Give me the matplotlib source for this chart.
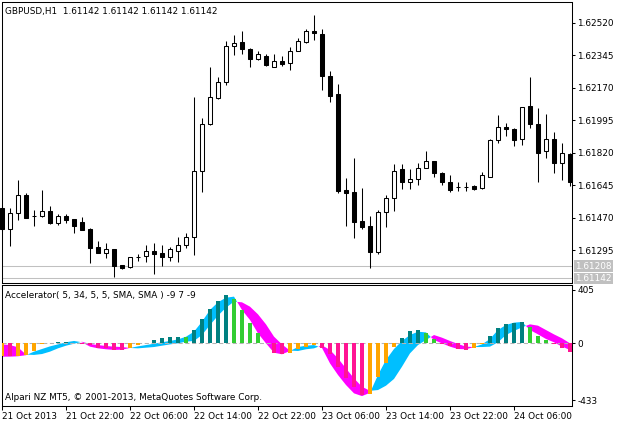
import matplotlib
matplotlib.use("Agg")
import matplotlib.pyplot as plt
from matplotlib.patches import Rectangle

plt.rcParams['font.family'] = ['DejaVu Sans']

# GBPUSD H1 candles, 21 Oct 2013 14:00 onwards
OPEN = [1.61523, 1.61410, 1.61492, 1.61591, 1.61478, 1.61476, 1.61505, 1.61439, 1.61478, 1.61462,
        1.61446, 1.61408, 1.61310, 1.61280, 1.61300, 1.61214, 1.61202, 1.61256, 1.61264, 1.61290,
        1.61277, 1.61256, 1.61291, 1.61320, 1.61363, 1.61718, 1.61971, 1.62114, 1.62197, 1.62396,
        1.62414, 1.62380, 1.62321, 1.62339, 1.62283, 1.62312, 1.62300, 1.62367, 1.62416, 1.62473,
        1.62459, 1.62231, 1.62134, 1.61618, 1.61607, 1.61451, 1.61424, 1.61286, 1.61498, 1.61573,
        1.61729, 1.61663, 1.61675, 1.61735, 1.61772, 1.61708, 1.61663, 1.61636, 1.61636, 1.61639,
        1.61627, 1.61689, 1.61887, 1.61957, 1.61948, 1.61891, 1.62070, 1.61973, 1.61829, 1.61891,
        1.61761, 1.61812]
HIGH = [1.61537, 1.61523, 1.61672, 1.61603, 1.61510, 1.61618, 1.61532, 1.61487, 1.61489, 1.61462,
        1.61471, 1.61412, 1.61343, 1.61331, 1.61302, 1.61216, 1.61259, 1.61273, 1.61322, 1.61331,
        1.61322, 1.61313, 1.61363, 1.61385, 1.62120, 1.62004, 1.62281, 1.62224, 1.62419, 1.62452,
        1.62473, 1.62382, 1.62366, 1.62350, 1.62350, 1.62339, 1.62387, 1.62437, 1.62486, 1.62561,
        1.62486, 1.62258, 1.62188, 1.61681, 1.61788, 1.61627, 1.61478, 1.61510, 1.61591, 1.61756,
        1.61759, 1.61729, 1.61761, 1.61829, 1.61774, 1.61715, 1.61699, 1.61663, 1.61659, 1.61643,
        1.61715, 1.61892, 1.62021, 1.61977, 1.61951, 1.62065, 1.62227, 1.62061, 1.62030, 1.61931,
        1.61872, 1.61815]
LOW = [1.61397, 1.61318, 1.61456, 1.61465, 1.61426, 1.61474, 1.61437, 1.61430, 1.61442, 1.61388,
       1.61402, 1.61227, 1.61277, 1.61250, 1.61151, 1.61194, 1.61196, 1.61237, 1.61232, 1.61164,
       1.61209, 1.61237, 1.61232, 1.61307, 1.61268, 1.61609, 1.61970, 1.62109, 1.62181, 1.62343,
       1.62348, 1.62281, 1.62319, 1.62287, 1.62281, 1.62285, 1.62263, 1.62365, 1.62410, 1.62425,
       1.62156, 1.62093, 1.61603, 1.61424, 1.61361, 1.61408, 1.61197, 1.61272, 1.61420, 1.61506,
       1.61625, 1.61625, 1.61646, 1.61734, 1.61689, 1.61645, 1.61605, 1.61611, 1.61611, 1.61618,
       1.61626, 1.61687, 1.61869, 1.61908, 1.61855, 1.61860, 1.61951, 1.61663, 1.61788, 1.61708,
       1.61672, 1.61639]
CLOSE = [1.61406, 1.61492, 1.61589, 1.61469, 1.61478, 1.61505, 1.61439, 1.61476, 1.61456, 1.61426,
         1.61404, 1.61307, 1.61280, 1.61300, 1.61209, 1.61200, 1.61257, 1.61258, 1.61290, 1.61275,
         1.61256, 1.61302, 1.61320, 1.61363, 1.61718, 1.61973, 1.62118, 1.62199, 1.62393, 1.62412,
         1.62378, 1.62324, 1.62350, 1.62289, 1.62312, 1.62297, 1.62366, 1.62419, 1.62472, 1.62461,
         1.62233, 1.62124, 1.61614, 1.61603, 1.61447, 1.61420, 1.61286, 1.61499, 1.61573, 1.61718,
         1.61663, 1.61675, 1.61735, 1.61772, 1.61708, 1.61663, 1.61618, 1.61636, 1.61636, 1.61623,
         1.61697, 1.61887, 1.61957, 1.61944, 1.61887, 1.62063, 1.61973, 1.61818, 1.61891, 1.61761,
         1.61815, 1.61659]

# Accelerator histogram and the two lines of its filled band
AC_HIST = [-95, -97, -93, -86, -58, -8, 6, 8, 9, 6,
           -3, -10, -33, -38, -48, -50, -35, -13, 3, 25,
           42, 47, 50, 48, 103, 184, 260, 321, 366, 336,
           253, 157, 76, 5, -76, -83, -71, -45, -25, -13,
           -33, -83, -177, -260, -329, -392, -385, -255, -147, -25,
           43, 94, 101, 76, 33, -5, -20, -42, -47, -33,
           -5, 56, 114, 144, 152, 162, 126, 56, 25, -8,
           -38, -63]
BAND_FAST = [-101, -101, -98, -90, -63, -43, -23, -8, 8, 18,
             8, -25, -38, -45, -50, -48, -35, -23, -13, -3,
             8, 18, 30, 50, 88, 164, 253, 311, 346, 354,
             253, 177, 76, 0, -71, -83, -58, -28, -18, -13,
             -35, -152, -240, -316, -379, -400, -375, -240, -126, -43,
             18, 63, 88, 83, 25, 0, -25, -43, -45, -28,
             -8, 33, 101, 139, 157, 162, 101, 68, 33, 8,
             -25, -50]
BAND_SLOW = [-8, -13, -30, -85, -88, -81, -63, -38, -18, -3,
             12, -5, -13, -20, -25, -28, -35, -38, -33, -28,
             -18, -8, 0, 13, 18, 63, 139, 210, 270, 316,
             311, 278, 220, 144, 51, -8, -55, -58, -45, -38,
             -15, -50, -114, -190, -265, -329, -360, -354, -321, -270,
             -177, -76, -13, 25, 63, 43, 18, -5, -25, -28,
             -28, -25, 8, 63, 94, 121, 144, 134, 101, 68,
             38, 0]

PRICE_TICKS = [1.62520, 1.62345, 1.62170, 1.61995, 1.61820, 1.61645, 1.61470, 1.61295]
GREY_LEVELS = [1.61208, 1.61142]
AC_TICKS = [405, 0, -433]
TIME_TICKS = [0, 8, 16, 24, 32, 40, 48, 56, 64]
TIME_LABELS = ["21 Oct 2013", "21 Oct 22:00", "22 Oct 06:00", "22 Oct 14:00", "22 Oct 22:00",
               "23 Oct 06:00", "23 Oct 14:00", "23 Oct 22:00", "24 Oct 06:00"]

W, H = 621, 423
FS = 6.4
LW = 0.75


def px_axes(fig, left, top, right, bottom):
    return fig.add_axes([left / W, 1 - bottom / H, (right - left) / W, (bottom - top) / H])


def style_frame(ax):
    for s in ax.spines.values():
        s.set_linewidth(LW)
        s.set_color("black")
    ax.yaxis.tick_right()
    ax.tick_params(axis="y", direction="out", length=2.4, width=LW, pad=1.5, labelsize=FS)


def draw_candles(ax):
    bw = 0.55
    for i in range(len(OPEN)):
        o, h, l, c = OPEN[i], HIGH[i], LOW[i], CLOSE[i]
        ax.vlines(i, l, h, color="black", linewidth=LW, zorder=2, clip_on=False)
        lo, hi = min(o, c), max(o, c)
        if hi - lo < 0.00003:
            ax.hlines(o, i - bw / 2, i + bw / 2, color="black", linewidth=LW, zorder=3, clip_on=False)
            continue
        face = "white" if c > o else "black"
        ax.add_patch(Rectangle((i - bw / 2, lo), bw, hi - lo, facecolor=face,
                               edgecolor="black", linewidth=LW, zorder=3, clip_on=False))


def bar_colors(vals):
    cols = []
    for i, v in enumerate(vals):
        rising = i == 0 or v >= vals[i - 1]
        if v >= 0:
            cols.append("#008080" if rising else "#32CD32")
        else:
            cols.append("#FFA500" if rising else "#FF1493")
    return cols


def main():
    fig = plt.figure(figsize=(W / 100, H / 100), dpi=100)

    n = len(OPEN)
    xs = list(range(n))
    xmax = 71.25

    # price pane
    ax = px_axes(fig, 2, 2.5, 572, 282.5)
    style_frame(ax)
    ax.set_xlim(0, xmax)
    ax.set_ylim(1.61120, 1.626277)
    ax.set_xticks([])
    ax.set_yticks(PRICE_TICKS)
    ax.set_yticklabels(["%.5f" % p for p in PRICE_TICKS])
    for lvl in GREY_LEVELS:
        ax.axhline(lvl, color="#c0c0c0", linewidth=LW, zorder=1)
        ax.text(1.006, lvl, "%.5f" % lvl, transform=ax.get_yaxis_transform(), fontsize=FS,
                color="white", va="center", ha="left", clip_on=False,
                bbox=dict(boxstyle="square,pad=0.15", facecolor="#c0c0c0", edgecolor="none"))
    draw_candles(ax)
    ax.text(0.006, 0.985, "GBPUSD,H1  1.61142 1.61142 1.61142 1.61142", transform=ax.transAxes,
            fontsize=FS, va="top", ha="left")

    # accelerator pane
    ax2 = px_axes(fig, 2, 284.5, 572, 406)
    style_frame(ax2)
    ax2.set_xlim(0, xmax)
    ax2.set_ylim(-475, 446)
    ax2.set_yticks(AC_TICKS)
    ax2.set_yticklabels([str(t) for t in AC_TICKS])
    ax2.fill_between(xs, BAND_FAST, BAND_SLOW,
                     where=[f >= s for f, s in zip(BAND_FAST, BAND_SLOW)],
                     interpolate=True, color="#00BFFF", linewidth=0, zorder=1)
    ax2.fill_between(xs, BAND_FAST, BAND_SLOW,
                     where=[f < s for f, s in zip(BAND_FAST, BAND_SLOW)],
                     interpolate=True, color="#FF00FF", linewidth=0, zorder=1)
    ax2.axhline(0, color="#b4b4b4", linewidth=LW, linestyle=(0, (4, 2.5)), zorder=2)
    ax2.bar(xs, AC_HIST, width=0.42, color=bar_colors(AC_HIST), linewidth=0, zorder=3)

    ax2.set_xticks(TIME_TICKS)
    ax2.set_xticklabels(TIME_LABELS, ha="left")
    ax2.tick_params(axis="x", direction="out", length=3, width=LW, pad=1.5, labelsize=FS)

    ax2.text(0.006, 0.95, "Accelerator( 5, 34, 5, 5, SMA, SMA ) -9 7 -9", transform=ax2.transAxes,
             fontsize=FS, va="top", ha="left")
    ax2.text(0.006, 0.035, "Alpari NZ MT5, \u00a9 2001-2013, MetaQuotes Software Corp.",
             transform=ax2.transAxes, fontsize=FS, va="bottom", ha="left")

    fig.savefig("out.png", dpi=100)


if __name__ == '__main__':
    main()
